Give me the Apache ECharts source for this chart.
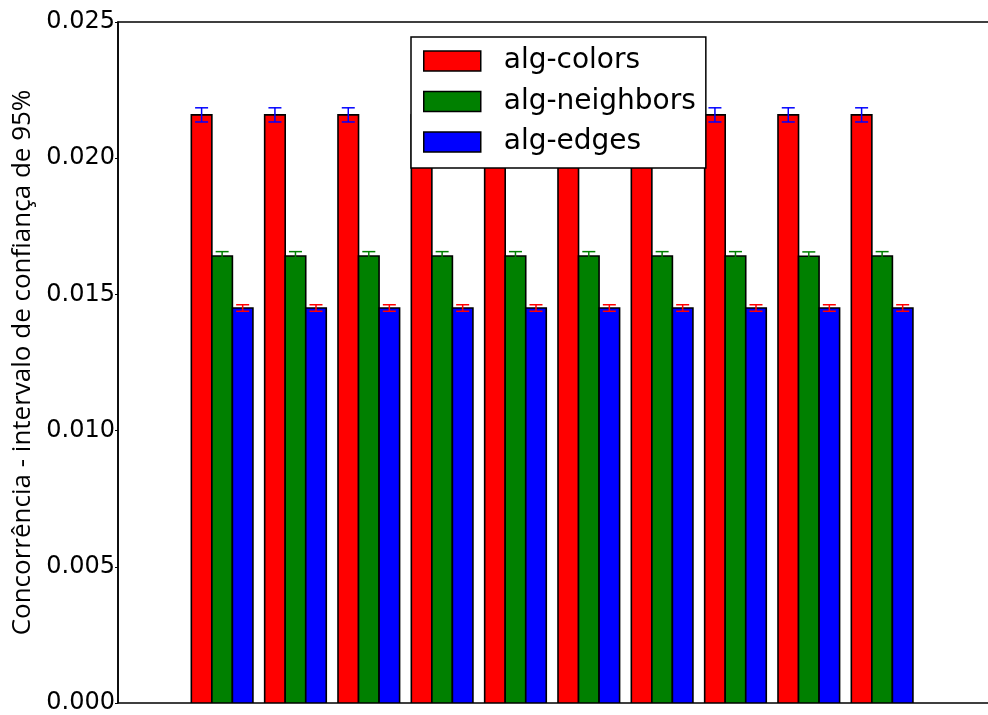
<!DOCTYPE html>
<html>
<head>
<meta charset="utf-8">
<script src="https://cdn.jsdelivr.net/npm/echarts@6/dist/echarts.min.js"></script>
<style>
  html, body { margin: 0; padding: 0; background: #fff; }
  #chart { width: 988px; height: 715px; }
</style>
</head>
<body>
<div id="chart"></div>
<script>
// Ten runs, three algorithms each: mean concurrency and 95% half-width
const runs = ['1', '2', '3', '4', '5', '6', '7', '8', '9', '10'];
const seriesNames = ['alg-colors', 'alg-neighbors', 'alg-edges'];

const colorsMean = [0.02159, 0.02159, 0.02159, 0.02159, 0.02159, 0.02159, 0.02159, 0.02159, 0.02159, 0.02159];
const colorsErr = [0.00026, 0.00026, 0.00026, 0.00026, 0.00026, 0.00026, 0.00026, 0.00026, 0.00026, 0.00026];
const neighborsMean = [0.01641, 0.01641, 0.01641, 0.01641, 0.01641, 0.01641, 0.01641, 0.01641, 0.01640, 0.01641];
const neighborsErr = [0.00016, 0.00016, 0.00016, 0.00016, 0.00016, 0.00016, 0.00016, 0.00016, 0.00016, 0.00016];
const edgesMean = [0.01450, 0.01450, 0.01450, 0.01450, 0.01450, 0.01450, 0.01450, 0.01450, 0.01450, 0.01450];
const edgesErr = [0.00012, 0.00012, 0.00012, 0.00012, 0.00012, 0.00012, 0.00012, 0.00012, 0.00012, 0.00012];

const yTicks = [0, 0.005, 0.010, 0.015, 0.020, 0.025];

const BAR_W = 0.28;
const fills = ['#ff0000', '#008000', '#0000ff'];
const errColors = ['#0000ff', '#008000', '#ff0000'];

function makeData(means, errs) {
  return runs.map((r, i) => [i, means[i], errs[i]]);
}

function renderBar(slot) {
  return function (params, api) {
    const x = api.value(0) + slot * BAR_W;
    const y = api.value(1);
    const e = api.value(2);
    const tl = api.coord([x, y]);
    const br = api.coord([x + BAR_W, 0]);
    const cx = api.coord([x + BAR_W / 2, y])[0];
    const yTop = api.coord([x, y + e])[1];
    const yBot = api.coord([x, y - e])[1];
    const cap = 6.5;
    const lineStyle = { stroke: errColors[slot], lineWidth: 1.5 };
    return {
      type: 'group',
      children: [
        {
          type: 'rect',
          shape: { x: tl[0], y: tl[1], width: br[0] - tl[0], height: br[1] - tl[1] },
          style: { fill: fills[slot], stroke: '#000', lineWidth: 1.6 }
        },
        { type: 'line', shape: { x1: cx, y1: yTop, x2: cx, y2: yBot }, style: lineStyle, z2: 5 },
        { type: 'line', shape: { x1: cx - cap, y1: yTop, x2: cx + cap, y2: yTop }, style: lineStyle, z2: 5 },
        { type: 'line', shape: { x1: cx - cap, y1: yBot, x2: cx + cap, y2: yBot }, style: lineStyle, z2: 5 }
      ]
    };
  };
}

const allMeans = [colorsMean, neighborsMean, edgesMean];
const allErrs = [colorsErr, neighborsErr, edgesErr];

const chart = echarts.init(document.getElementById('chart'), null, { renderer: 'canvas' });

chart.setOption({
  animation: false,
  backgroundColor: '#ffffff',
  grid: {
    left: 118, right: -10, top: 22, bottom: 12,
    outerBoundsMode: 'none',
    containLabel: false,
    show: true, borderColor: '#000', borderWidth: 1.5, backgroundColor: 'transparent'
  },
  legend: {
    orient: 'vertical',
    left: 411, top: 37,
    padding: [9, 10, 11, 12],
    itemWidth: 57, itemHeight: 20, itemGap: 10.5,
    backgroundColor: '#fff',
    borderColor: '#000', borderWidth: 1.5,
    textStyle: { fontFamily: 'DejaVu Sans', fontSize: 28, lineHeight: 30, color: '#000', padding: [0, 0, 0, 18] },
    data: seriesNames.map((n, k) => ({
      name: n,
      icon: 'rect',
      itemStyle: { color: fills[k], borderColor: '#000', borderWidth: 1.5 }
    })),
    z: 10
  },
  xAxis: {
    type: 'value', min: -1, max: 11,
    axisLine: { show: false }, axisTick: { show: false },
    axisLabel: { show: false }, splitLine: { show: false }
  },
  yAxis: {
    type: 'value', min: 0, max: 0.025, interval: 0.005,
    name: 'Concorrência - intervalo de confiança de 95%',
    nameLocation: 'middle', nameGap: 80, nameRotate: 90,
    nameTextStyle: { fontFamily: 'Open Sans', fontSize: 26, color: '#000' },
    axisLine: { show: true, onZero: false, lineStyle: { color: '#000', width: 1.5 } },
    axisTick: { show: true, length: 3, lineStyle: { color: '#000', width: 1 } },
    axisLabel: {
      fontFamily: 'DejaVu Sans', fontSize: 24, color: '#000', margin: 3,
      formatter: v => {
        const t = yTicks.find(k => Math.abs(k - v) < 1e-9);
        return (t === undefined ? v : t).toFixed(3);
      }
    },
    splitLine: { show: false }
  },
  series: seriesNames.map((n, k) => ({
    name: n,
    type: 'custom',
    renderItem: renderBar(k),
    itemStyle: { color: fills[k], borderColor: '#000' },
    encode: { x: 0, y: 1 },
    data: makeData(allMeans[k], allErrs[k]),
    clip: true
  }))
});
</script>
</body>
</html>
